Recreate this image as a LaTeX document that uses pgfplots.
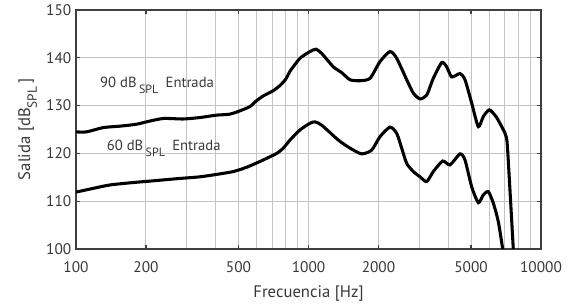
\documentclass[border=0pt]{standalone}
\usepackage{pgfplots}
\pgfplotsset{compat=1.18}
\usepackage{fontspec}
\setmainfont{PT Sans}
\definecolor{txt}{HTML}{383838}
\definecolor{gridc}{HTML}{C4C4C4}
\definecolor{axc}{HTML}{404040}
\newcommand{\sub}[1]{\raisebox{-4.5pt}{\fontsize{9}{9}\selectfont #1}}
\newcommand{\subl}[1]{\raisebox{-5pt}{\fontsize{10}{10}\selectfont #1}}
\begin{document}
\begin{tikzpicture}
\begin{axis}[
 scale only axis, width=348.75pt, height=179.25pt,
 xmode=log, xmin=100, xmax=10000, ymin=100, ymax=150,
 xtick={100,200,500,1000,2000,5000,10000},
 xticklabels={100,200,500,1000,2000,5000,10000},
 minor xtick={300,400,600,700,800,900,3000,4000,6000,7000,8000,9000},
 ytick={100,110,...,150},
 grid=both,
 major grid style={gridc, line width=0.75pt},
 minor grid style={gridc, line width=0.75pt},
 tick align=inside, major tick length=3pt, minor tick length=0pt,
 axis line style={axc, line width=1pt},
 tick style={axc, line width=1pt},
 ticklabel style={font=\fontsize{11.5}{13}\selectfont, text=txt},
 xticklabel style={yshift=-6pt},
 label style={font=\fontsize{12.5}{14}\selectfont, text=txt},
 xlabel style={yshift=-3pt},
 xlabel={Frecuencia [Hz]},
 ylabel={Salida [dB\subl{SPL}\,]},
 /pgf/number format/assume math mode=true,
 clip=true,
]
\addplot[black, line width=2.3pt, smooth, tension=0.4] coordinates {
(100,124.5) (111,124.5) (131,125.4) (155,125.7) (182,126.1) (201,126.6)
(237,127.3) (289,127.2) (341,127.5) (402,128.0) (458,128.2) (507,128.9)
(560,129.8) (597,131.0) (638,132.0) (704,133.1) (754,134.2) (800,135.6)
(833,137.2) (919,139.9) (1015,141.3) (1077,141.8) (1140,140.9) (1279,138.1)
(1389,136.9) (1509,135.4) (1665,135.2) (1839,135.7) (2030,139.2) (2241,141.3)
(2395,139.9) (2645,135.4) (2824,132.6) (3017,131.4) (3224,132.2) (3442,135.7)
(3741,139.0) (3930,138.1) (4130,136.0) (4484,136.7) (4711,135.4) (5034,130.5)
(5374,125.6) (5647,127.7) (5994,129.1) (6405,127.7) (6776,125.6) (7050,123.8)
(7180,121.0) (7600,100) (7700,95)
};
\addplot[black, line width=2.3pt, smooth, tension=0.4] coordinates {
(100,111.9) (119,112.7) (140,113.4) (176,113.9) (208,114.2) (271,114.7)
(341,115.1) (402,115.6) (475,116.2) (542,117.1) (618,118.3) (683,119.3)
(730,120.0) (776,121.0) (833,122.8) (919,124.9) (1015,126.3) (1066,126.6)
(1140,125.9) (1343,122.8) (1509,121.1) (1693,119.9) (1870,120.7) (2030,123.5)
(2241,125.5) (2395,124.2) (2520,121.0) (2645,117.9) (2824,116.2) (3017,115.1)
(3224,114.1) (3442,116.2) (3778,118.4) (4061,117.6) (4484,119.9) (4711,118.6)
(5034,113.0) (5374,109.7) (5647,111.3) (5935,112.0) (6236,109.6) (6553,105.7)
(6844,100) (7000,97)
};
\node[anchor=base west, text=txt, font=\fontsize{11}{13}\selectfont, inner sep=0pt]
  at (axis cs:126.8,133.7) {90 dB\,\sub{SPL}\enspace Entrada};
\node[anchor=base west, text=txt, font=\fontsize{11}{13}\selectfont, inner sep=0pt]
  at (axis cs:135.5,120.5) {60 dB\,\sub{SPL}\enspace Entrada};
\coordinate (bl) at (rel axis cs:-0.1634,-0.2385);
\coordinate (tr) at (rel axis cs:1.0645,1.0418);
\end{axis}
\pgfresetboundingbox
\path[use as bounding box] (bl) rectangle (tr);
\end{tikzpicture}
\end{document}
